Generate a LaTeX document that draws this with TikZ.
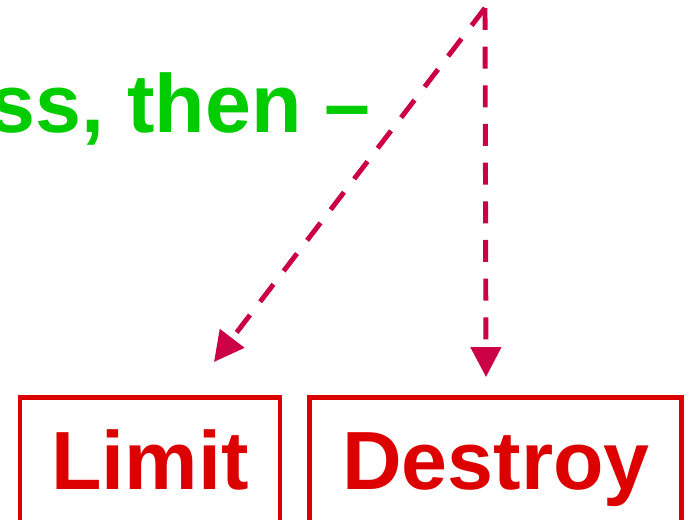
\documentclass[tikz,border=0pt]{standalone}
\usepackage{fontspec}
\setmainfont{Liberation Sans}
\usetikzlibrary{arrows.meta,positioning}
\definecolor{phrasegreen}{RGB}{0,204,0}
\definecolor{boxred}{RGB}{221,0,0}
\definecolor{arrowmag}{RGB}{204,0,68}

\begin{document}
\begin{tikzpicture}[>={Triangle[length=17pt,width=17pt]},font=\fontsize{47}{56}\selectfont\bfseries]
\tikzstyle{action}=[draw=boxred,text=boxred,line width=2.8pt,minimum height=2.5cm,text height=34pt,text depth=0pt,inner sep=0pt]
\tikzstyle{link}=[->,arrowmag,line width=2.8pt,dash pattern=on 12.5pt off 9.5pt]
\useasboundingbox (0,0) rectangle (13.78,-10.38);
\clip (0,0) rectangle (13.78,-10.38);
\node[text=phrasegreen,anchor=base east,inner sep=0pt] (phrase) at (7.42,-2.64) {ss, then --};
\node[action,minimum width=5.2cm] (limit) at (3.0,-9.2) {Limit};
\node[action,minimum width=7.44cm,right=0.5cm of limit] (destroy) {Destroy};
\coordinate (src) at (9.7,-0.16);
\coordinate (limitend) at (4.28,-7.24);
\coordinate (destroyend) at (9.72,-7.54);
\draw[link] (src) -- (limitend);
\draw[link] (src) -- (destroyend);
\end{tikzpicture}
\end{document}
